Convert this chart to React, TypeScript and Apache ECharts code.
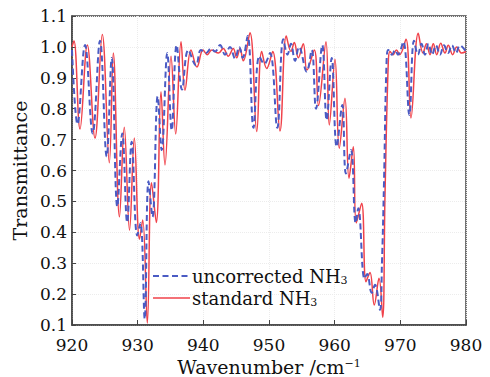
import React, { useEffect, useRef } from "react";
import * as echarts from "echarts";

// ---- data ----
const standardWave = [
  920.0, 920.3, 921.22, 922.33, 923.5, 924.61, 925.68, 926.29, 927.23, 927.96,
  928.76, 929.49, 930.28, 930.77, 931.47, 932.11, 932.84, 933.55, 934.16, 935.08,
  935.79, 936.6, 937.21, 938.12, 939.03, 939.95, 940.6, 941.3, 942.3, 943.04,
  943.8, 944.56, 945.08, 945.58, 946.08, 947.1, 948.13, 948.89, 949.65, 950.56,
  951.67, 952.63, 953.35, 953.85, 954.46, 955.22, 955.78, 956.9, 957.54, 958.68,
  959.18, 960.05, 960.7, 961.57, 962.18, 962.84, 963.29, 964.11, 964.77, 965.38,
  966.03, 966.75, 967.31, 967.66, 968.16, 968.42, 968.9, 969.4, 969.9, 970.86,
  971.62, 972.73, 973.45, 973.98, 974.52, 975.02, 975.54, 976.15, 976.8, 977.3,
  977.97, 978.58, 979.34, 980.0,
];
const standardT = [
  1.0, 1.02, 0.734, 1.006, 0.705, 1.04, 0.625, 0.98, 0.45, 0.74,
  0.407, 0.705, 0.378, 0.44, 0.106, 0.56, 0.432, 0.855, 0.618, 0.97,
  0.718, 1.017, 0.86, 0.99, 0.935, 0.99, 0.975, 0.99, 0.98, 0.995,
  0.97, 0.995, 0.965, 0.995, 0.955, 1.046, 0.726, 0.985, 0.93, 0.985,
  0.728, 1.035, 0.985, 1.014, 0.965, 1.01, 0.925, 0.99, 0.81, 1.017,
  0.747, 0.96, 0.672, 0.834, 0.575, 0.677, 0.43, 0.494, 0.24, 0.27,
  0.165, 0.251, 0.125, 0.515, 0.947, 0.985, 0.975, 0.99, 0.975, 1.025,
  0.77, 1.044, 0.98, 1.01, 0.975, 1.01, 0.975, 1.012, 0.98, 1.005,
  0.975, 1.0, 0.98, 0.985,
];

const uncorrectedWave = [
  920.0, 920.84, 921.98, 923.15, 924.26, 925.28, 926.05, 926.9, 927.66, 928.4,
  929.09, 929.93, 930.43, 931.07, 931.65, 932.26, 933.05, 933.66, 934.51, 935.18,
  935.94, 936.75, 937.71, 938.88, 939.64, 940.4, 941.17, 941.78, 942.54, 943.3,
  944.06, 944.82, 945.48, 945.99, 946.75, 947.63, 948.52, 949.28, 950.15, 951.26,
  952.18, 952.82, 953.35, 953.96, 954.57, 955.74, 956.5, 957.16, 958.11, 958.78,
  959.55, 960.31, 961.16, 961.72, 962.49, 963.2, 963.6, 964.54, 964.95, 965.64,
  966.14, 966.9, 967.2, 967.5, 967.9, 968.17, 968.73, 969.19, 969.64, 970.45,
  971.37, 972.08, 972.69, 973.22, 973.75, 974.29, 974.82, 975.43, 976.04, 976.65,
  977.26, 977.87, 978.47, 979.08, 980.0,
];
const uncorrectedT = [
  0.99, 0.75, 1.006, 0.72, 1.02, 0.645, 0.964, 0.483, 0.72, 0.432,
  0.693, 0.39, 0.43, 0.12, 0.565, 0.45, 0.84, 0.666, 0.98, 0.73,
  1.006, 0.862, 0.99, 0.94, 0.99, 0.98, 0.995, 0.985, 1.006, 0.975,
  1.0, 0.963, 1.0, 0.965, 1.035, 0.738, 0.97, 0.945, 0.98, 0.738,
  1.025, 0.975, 1.01, 0.955, 1.0, 0.92, 0.99, 0.8, 1.006, 0.763,
  0.964, 0.677, 0.812, 0.59, 0.666, 0.43, 0.478, 0.25, 0.265, 0.204,
  0.23, 0.149, 0.3, 0.55, 0.95, 0.99, 0.975, 0.99, 0.975, 1.017,
  0.78, 1.02, 0.975, 1.01, 0.975, 1.01, 0.975, 1.005, 0.975, 1.005,
  0.98, 1.005, 0.98, 1.005, 0.985,
];

const xTicks = [920, 930, 940, 950, 960, 970, 980];
const yTicks = [0.1, 0.2, 0.3, 0.4, 0.5, 0.6, 0.7, 0.8, 0.9, 1.0, 1.1];
const legendNames = ["uncorrected NH", "standard NH"];
const legendSub = "3";

const FONT = "DejaVu Serif";
const BLUE = "#4a5bc4";
const RED = "#f0424a";

export default function App() {
  const ref = useRef<HTMLDivElement>(null);
  useEffect(() => {
    if (!ref.current) return;
    const chart = echarts.init(ref.current, null, { renderer: "svg" });
    const blue = uncorrectedWave.map((w, i) => [w, uncorrectedT[i]]);
    const red = standardWave.map((w, i) => [w, standardT[i]]);
    const richLegend = {
      a: { fontFamily: FONT, fontSize: 18, fill: "#111", lineHeight: 20 },
      s: { fontFamily: FONT, fontSize: 11, fill: "#111", verticalAlign: "bottom", lineHeight: 4 },
    };
    const legendRow = (i: number, y: number, color: string, dashed: boolean) => [
      {
        type: "line",
        shape: { x1: 153, y1: y, x2: 190, y2: y },
        style: { stroke: color, lineWidth: dashed ? 2 : 1.5, lineDash: dashed ? [6, 3.5] : null },
        z: 10,
      },
      {
        type: "text",
        x: 192,
        y: y,
        style: {
          text: `{a|${legendNames[i]}}{s|${legendSub}}`,
          rich: richLegend,
          verticalAlign: "middle",
          align: "left",
        },
        z: 10,
      },
    ];
    chart.setOption({
      animation: false,
      backgroundColor: "#fff",
      grid: {
        left: 72,
        right: 24,
        top: 16,
        bottom: 52,
        containLabel: false,
        outerBoundsMode: "none",
        show: true,
        borderColor: "#444",
        borderWidth: 1.5,
      },
      graphic: [...legendRow(0, 276, BLUE, true), ...legendRow(1, 298, RED, false)],
      xAxis: {
        type: "value",
        min: xTicks[0],
        max: xTicks[xTicks.length - 1],
        interval: 10,
        name: "{a|Wavenumber /cm}{p|−1}",
        nameLocation: "middle",
        nameGap: 28,
        nameTextStyle: {
          rich: {
            a: { fontFamily: FONT, fontSize: 19, color: "#111" },
            p: { fontFamily: FONT, fontSize: 11, color: "#111", verticalAlign: "top", lineHeight: 6 },
          },
        },
        axisLine: { show: true, lineStyle: { color: "#444", width: 1.5 } },
        axisTick: { show: true, inside: true, length: 5, lineStyle: { color: "#444" } },
        axisLabel: { fontFamily: FONT, fontSize: 17, color: "#111", margin: 11 },
        splitLine: { show: true, lineStyle: { color: "#ececec", width: 1, type: "dotted" } },
      },
      yAxis: {
        type: "value",
        min: yTicks[0],
        max: yTicks[yTicks.length - 1],
        interval: 0.1,
        name: "Transmittance",
        nameLocation: "middle",
        nameGap: 40,
        nameTextStyle: { fontFamily: FONT, fontSize: 19, color: "#111" },
        axisLine: { show: true, lineStyle: { color: "#444", width: 1.5 } },
        axisTick: { show: true, inside: true, length: 4, lineStyle: { color: "#444" } },
        axisLabel: {
          fontFamily: FONT,
          fontSize: 17,
          color: "#111",
          margin: 5,
          formatter: (v: number) => v.toFixed(1),
        },
        splitLine: { show: true, lineStyle: { color: "#ececec", width: 1, type: "dotted" } },
      },
      series: [
        {
          name: "uncorrected NH3",
          type: "line",
          data: blue,
          smooth: 0.4,
          symbol: "none",
          z: 3,
          lineStyle: { color: BLUE, width: 2, type: [6, 3.5] },
        },
        {
          name: "standard NH3",
          type: "line",
          data: red,
          smooth: 0.4,
          symbol: "none",
          z: 2,
          lineStyle: { color: RED, width: 1.5 },
        },
      ],
    });
    return () => chart.dispose();
  }, []);
  return (
    <div
      ref={ref}
      style={{ position: "absolute", left: 0, top: 0, width: 490, height: 377 }}
    />
  );
}
